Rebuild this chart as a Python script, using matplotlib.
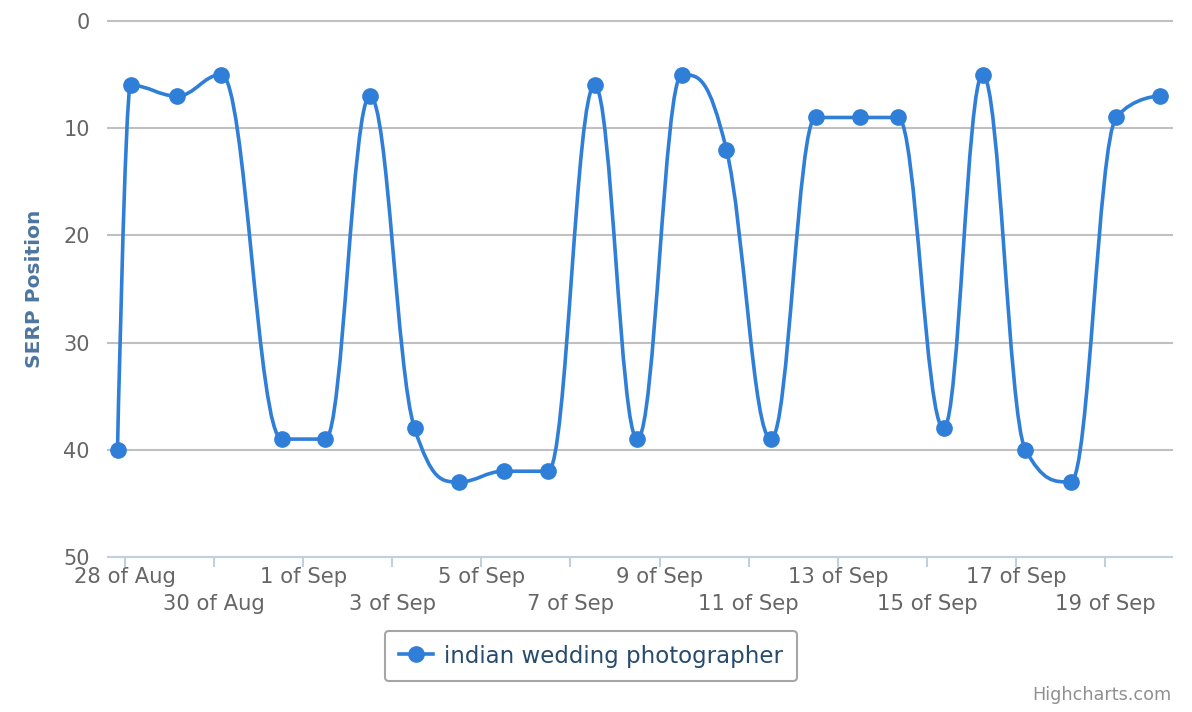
import matplotlib
matplotlib.use("Agg")
import matplotlib.pyplot as plt
import matplotlib.dates as mdates
from matplotlib.path import Path
from matplotlib.patches import PathPatch
from matplotlib.lines import Line2D
import numpy as np
import pandas as pd

# Chart data
dates = [
    "2013-08-27 20:00", "2013-08-28 03:00", "2013-08-29 04:00", "2013-08-30 04:00",
    "2013-08-31 12:30", "2013-09-01 12:00", "2013-09-02 12:00", "2013-09-03 12:00",
    "2013-09-04 12:00", "2013-09-05 12:00", "2013-09-06 12:00", "2013-09-07 13:00",
    "2013-09-08 12:00", "2013-09-09 12:00", "2013-09-10 12:00", "2013-09-11 12:00",
    "2013-09-12 12:00", "2013-09-13 12:00", "2013-09-14 08:30", "2013-09-15 09:00",
    "2013-09-16 06:00", "2013-09-17 05:00", "2013-09-18 05:30", "2013-09-19 06:00",
    "2013-09-20 05:30",
]
positions = [40, 6, 7, 5, 39, 39, 7, 38, 43, 42, 42, 6, 39, 5, 12, 39, 9, 9, 9, 38, 5, 40, 43, 9, 7]
series_name = "indian wedding photographer"
tick_dates = pd.date_range("2013-08-28", "2013-09-19", freq="2D")
y_ticks = [0, 10, 20, 30, 40, 50]

LINE_COLOR = "#2F7ED8"
GRID_COLOR = "#C0C0C0"
AXIS_COLOR = "#C0D0E0"
LABEL_COLOR = "#666666"


def spline_path(xs, ys, smoothing=1.5):
    # Highcharts-style spline control points
    n = len(xs)
    denom = smoothing + 1
    left = [None] * n
    right = [None] * n
    for i in range(n):
        x, y = xs[i], ys[i]
        if i == 0 or i == n - 1:
            left[i] = (x, y)
            right[i] = (x, y)
            continue
        lx, ly = xs[i - 1], ys[i - 1]
        nx, ny = xs[i + 1], ys[i + 1]
        lcx = (smoothing * x + lx) / denom
        lcy = (smoothing * y + ly) / denom
        rcx = (smoothing * x + nx) / denom
        rcy = (smoothing * y + ny) / denom
        if rcx != lcx:
            corr = (rcy - lcy) * (rcx - x) / (rcx - lcx) + y - rcy
            lcy += corr
            rcy += corr
        if lcy > ly and lcy > y:
            lcy = max(ly, y)
            rcy = 2 * y - lcy
        elif lcy < ly and lcy < y:
            lcy = min(ly, y)
            rcy = 2 * y - lcy
        if rcy > ny and rcy > y:
            rcy = max(ny, y)
            lcy = 2 * y - rcy
        elif rcy < ny and rcy < y:
            rcy = min(ny, y)
            lcy = 2 * y - rcy
        left[i] = (lcx, lcy)
        right[i] = (rcx, rcy)
    verts = [(xs[0], ys[0])]
    codes = [Path.MOVETO]
    for i in range(1, n):
        verts += [right[i - 1], left[i], (xs[i], ys[i])]
        codes += [Path.CURVE4] * 3
    return Path(verts, codes)


x = mdates.date2num(pd.to_datetime(dates))
y = np.array(positions, dtype=float)

fig = plt.figure(figsize=(11.92, 7.12), dpi=100)
ax = fig.add_axes([108 / 1192, 155 / 712, 1064 / 1192, 536 / 712])

x0 = mdates.date2num(pd.Timestamp("2013-08-28"))
ax.set_xlim(x0 - 0.38, x0 + 23.5)
ax.set_ylim(50, 0)

for v in y_ticks[:-1]:
    ax.axhline(v, color=GRID_COLOR, lw=1.5, zorder=1, clip_on=False)

ax.add_patch(PathPatch(spline_path(x, y), facecolor="none", edgecolor=LINE_COLOR,
                       lw=2.6, zorder=3, capstyle="round", joinstyle="round"))
ax.plot(x, y, "o", color=LINE_COLOR, ms=11, zorder=4, clip_on=False)

for s in ["top", "right", "left"]:
    ax.spines[s].set_visible(False)
ax.spines["bottom"].set_color(AXIS_COLOR)
ax.spines["bottom"].set_linewidth(1.5)

ax.set_yticks(y_ticks)
ax.tick_params(axis="y", length=0, pad=13, labelsize=15, labelcolor=LABEL_COLOR)

tick_x = mdates.date2num(tick_dates)
ax.set_xticks(tick_x)
ax.set_xticklabels([])
ax.tick_params(axis="x", length=7, width=1.5, color=AXIS_COLOR, direction="out")
for i, (tx, d) in enumerate(zip(tick_x, tick_dates)):
    label = f"{d.day} of {d.strftime('%b')}"
    ypos = -20 / 536 if i % 2 == 0 else -47 / 536
    ax.text(tx, ypos, label, transform=ax.get_xaxis_transform(), ha="center", va="center",
            fontsize=15.2, color=LABEL_COLOR)

ax.set_ylabel("SERP Position", fontsize=14.5, fontweight="bold", color="#4D759E")
ax.yaxis.set_label_coords(-64 / 1064, 0.5)

handle = Line2D([], [], color=LINE_COLOR, lw=2.6, marker="o", ms=11)
leg = fig.legend([handle], [series_name], loc="center", bbox_to_anchor=(591 / 1192, 1 - 656 / 712),
                 frameon=True, fancybox=True, fontsize=16.5, handlelength=1.5,
                 borderpad=0.6, handletextpad=0.5, borderaxespad=0)
leg.get_frame().set_edgecolor("#909090")
leg.get_frame().set_linewidth(1.5)
for t in leg.get_texts():
    t.set_color("#274B6D")

fig.text(1172 / 1192, 1 - 695 / 712, "Highcharts.com", ha="right", va="center",
         fontsize=12.7, color="#909090")

fig.savefig("out.png", dpi=100)
